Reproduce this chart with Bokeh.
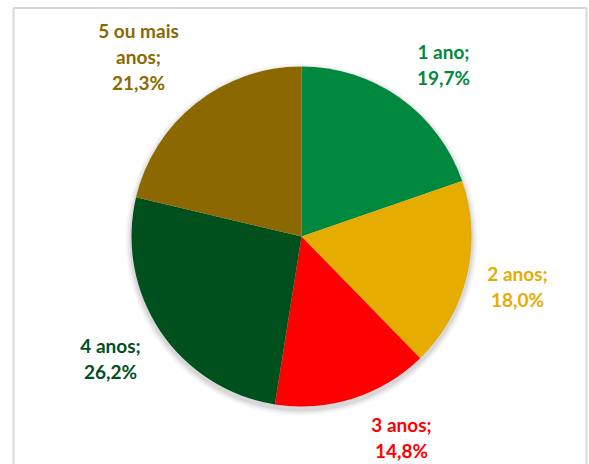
import math
from bokeh.plotting import figure
from bokeh.models import Range1d
from bokeh.core.properties import value
from bokeh.embed import file_html
from bokeh.resources import INLINE

# ---- data ----
categories = ["1 ano", "2 anos", "3 anos", "4 anos", "5 ou mais anos"]
shares = [19.7, 18.0, 14.8, 26.2, 21.3]
label_texts = ["1 ano;\n19,7%", "2 anos;\n18,0%", "3 anos;\n14,8%",
               "4 anos;\n26,2%", "5 ou mais\nanos;\n21,3%"]
colors = ["#00893E", "#E6AC00", "#FF0000", "#00501E", "#8B6900"]

# ---- layout ----
W, H = 589, 464
cx, cy, r = 301, 228, 170
# label anchor offsets from pie centre (pixels, y up)
label_dx = [142, 216, 100, -191, -163]
label_dy = [172, -50, -201, -122, 180]

p = figure(width=W, height=H, output_backend="svg", toolbar_location=None,
           x_range=Range1d(0, W), y_range=Range1d(0, H),
           min_border=0, outline_line_color=None)
p.axis.visible = False
p.grid.visible = False
p.background_fill_color = "white"
p.border_fill_color = "white"

# chart frame (light grey border, left/top/right)
p.line(x=[13, 13, 586, 586], y=[-10, H - 7.5, H - 7.5, -10],
       line_color="#D9D9D9", line_width=2)

# soft shadow
for k, a in zip([6, 4, 2], [0.035, 0.05, 0.07]):
    p.circle(x=[cx], y=[cy - 3], radius=r + k, fill_color="#000000",
             fill_alpha=a, line_color=None)

total = sum(shares)
starts, ends = [], []
cum = 0.0
for s in shares:
    starts.append(math.pi / 2 - 2 * math.pi * cum / total)
    cum += s
    ends.append(math.pi / 2 - 2 * math.pi * cum / total)

p.wedge(x=[cx] * len(shares), y=[cy] * len(shares), radius=r,
        start_angle=starts, end_angle=ends, direction="clock",
        fill_color=colors, line_color=None)

lx = [cx + d for d in label_dx]
ly = [cy + d for d in label_dy]
p.text(x=lx, y=ly, text=label_texts, text_color=colors,
       text_font=value("Lato"), text_font_style="bold",
       text_font_size="19px", text_align="center", text_baseline="middle",
       text_line_height=1.13)

open("out.html", "w").write(file_html(p, INLINE))
